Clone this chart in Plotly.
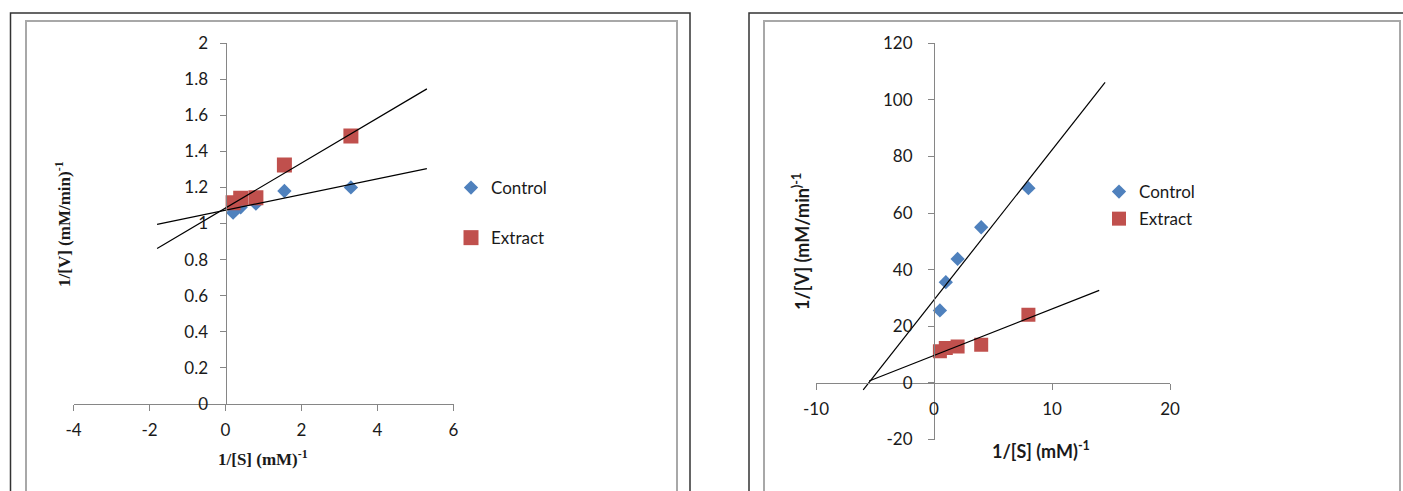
import numpy as np
import plotly.graph_objects as go

W, H = 1403, 491

# ---------------- data ----------------
# Left chart
left_x = [0.2, 0.4, 0.8, 1.55, 3.3]
left_control = [1.06, 1.09, 1.11, 1.18, 1.20]
left_extract = [1.115, 1.14, 1.143, 1.324, 1.485]
left_trend_span = [-1.8, 5.3]          # Excel trendline forecast extents
left_xticks = [-4, -2, 0, 2, 4, 6]
left_xlabels = ["-4", "-2", "0", "2", "4", "6"]
left_yticks = [0, 0.2, 0.4, 0.6, 0.8, 1, 1.2, 1.4, 1.6, 1.8, 2]
left_ylabels = ["0", "0.2", "0.4", "0.6", "0.8", "1", "1.2", "1.4", "1.6", "1.8", "2"]

# Right chart
right_x = [0.5, 1, 2, 4, 8]
right_control = [25.6, 35.6, 43.8, 55.0, 68.8]
right_extract = [11.2, 12.3, 12.9, 13.5, 24.1]
right_control_span = [-6.0, 14.5]
right_extract_span = [-5.5, 14.0]
right_xticks = [-10, 0, 10, 20]
right_xlabels = ["-10", "0", "10", "20"]
right_yticks = [-20, 0, 20, 40, 60, 80, 100, 120]
right_ylabels = ["-20", "0", "20", "40", "60", "80", "100", "120"]

BLUE = "#4F81BD"
RED = "#C0504D"
AXIS = "#868686"
TXT = "#1a1a1a"
SANS = "Lato"
SERIF = "Liberation Serif"


def px(x):
    return x / W


def py(y):
    return (H - y) / H


def trend(xs, ys, span):
    k, b = np.polyfit(xs, ys, 1)
    xx = np.array(span, dtype=float)
    return xx, k * xx + b


fig = go.Figure()

# ----- pixel layout -----
L_xr = [-4, 6]
L_yr = [0, 2]
L_xdom = [px(73.5), px(453.5)]
L_ydom = [py(404), py(43)]

R_xr = [-10, 20]
R_yr = [-20, 120]
R_xdom = [px(816), px(1170)]
R_ydom = [py(439.5), py(43.3)]


def frac(v, r, dom):
    return dom[0] + (v - r[0]) / (r[1] - r[0]) * (dom[1] - dom[0])


# ---------------- left chart traces ----------------
fig.add_trace(go.Scatter(x=left_x, y=left_control, mode="markers", name="Control",
                         marker=dict(symbol="diamond", size=11, color=BLUE),
                         xaxis="x", yaxis="y", legend="legend", legendgroup="a"))
fig.add_trace(go.Scatter(x=left_x, y=left_extract, mode="markers", name="Extract",
                         marker=dict(symbol="square", size=15, color=RED),
                         xaxis="x", yaxis="y", legend="legend", legendgroup="b"))
for ys in (left_control, left_extract):
    tx, ty = trend(left_x, ys, left_trend_span)
    fig.add_trace(go.Scatter(x=tx, y=ty, mode="lines", line=dict(color="black", width=1.2),
                             showlegend=False, hoverinfo="skip", xaxis="x", yaxis="y"))

# ---------------- right chart traces ----------------
fig.add_trace(go.Scatter(x=right_x, y=right_control, mode="markers", name="Control",
                         marker=dict(symbol="diamond", size=11, color=BLUE),
                         xaxis="x2", yaxis="y2", legend="legend2", legendgroup="c"))
fig.add_trace(go.Scatter(x=right_x, y=right_extract, mode="markers", name="Extract",
                         marker=dict(symbol="square", size=14, color=RED),
                         xaxis="x2", yaxis="y2", legend="legend2", legendgroup="d"))
for ys, span in ((right_control, right_control_span), (right_extract, right_extract_span)):
    tx, ty = trend(right_x, ys, span)
    fig.add_trace(go.Scatter(x=tx, y=ty, mode="lines", line=dict(color="black", width=1.2),
                             showlegend=False, hoverinfo="skip", xaxis="x2", yaxis="y2"))

axis_common = dict(showgrid=False, zeroline=False, showline=True, linecolor=AXIS, linewidth=1,
                   ticks="outside", ticklen=6, tickcolor=AXIS, tickwidth=1, automargin=False,
                   tickfont=dict(family=SANS, size=17, color=TXT), fixedrange=True)

fig.update_layout(
    width=W, height=H,
    margin=dict(l=0, r=0, t=0, b=0, pad=0, autoexpand=False),
    paper_bgcolor="white", plot_bgcolor="rgba(0,0,0,0)",
    xaxis=dict(domain=L_xdom, range=L_xr, tickvals=left_xticks, ticktext=left_xlabels,
               anchor="y", ticklabelstandoff=5, **axis_common),
    yaxis=dict(domain=L_ydom, range=L_yr, tickvals=left_yticks, ticktext=left_ylabels,
               anchor="free", position=frac(0, L_xr, L_xdom), ticklabelstandoff=8, **axis_common),
    xaxis2=dict(domain=R_xdom, range=R_xr, tickvals=right_xticks, ticktext=right_xlabels,
                anchor="free", position=frac(0, R_yr, R_ydom), ticklabelstandoff=5, **axis_common),
    yaxis2=dict(domain=R_ydom, range=R_yr, tickvals=right_yticks, ticktext=right_ylabels,
                anchor="free", position=frac(0, R_xr, R_xdom), ticklabelstandoff=12, **axis_common),
    legend=dict(x=px(451), y=py(170), xanchor="left", yanchor="top",
                font=dict(family=SANS, size=17, color=TXT), tracegroupgap=25,
                bgcolor="rgba(0,0,0,0)"),
    legend2=dict(x=px(1099), y=py(174), xanchor="left", yanchor="top",
                 font=dict(family=SANS, size=17, color=TXT), tracegroupgap=2,
                 bgcolor="rgba(0,0,0,0)"),
    showlegend=True,
)

# ---------------- frames ----------------
fig.add_shape(type="rect", xref="paper", yref="paper", x0=px(10.5), x1=px(690), y0=-0.1, y1=py(13),
              line=dict(color="#333333", width=1.5), layer="below")
fig.add_shape(type="rect", xref="paper", yref="paper", x0=px(26), x1=px(677), y0=-0.1, y1=py(21),
              line=dict(color="#a8a8a8", width=2), layer="below")
fig.add_shape(type="rect", xref="paper", yref="paper", x0=px(749), x1=px(1410), y0=-0.1, y1=py(13),
              line=dict(color="#333333", width=1.5), layer="below")
fig.add_shape(type="rect", xref="paper", yref="paper", x0=px(764), x1=px(1400), y0=-0.1, y1=py(21),
              line=dict(color="#a8a8a8", width=2), layer="below")

# ---------------- axis titles ----------------
ann = [
    dict(text="<b>1/[V] (mM/min)<sup>-1</sup></b>", x=px(63), y=py(224), textangle=-90,
         font=dict(family=SERIF, size=17, color=TXT)),
    dict(text="<b>1/[S] (mM)<sup>-1</sup></b>", x=px(263), y=py(458),
         font=dict(family=SERIF, size=17, color=TXT)),
    dict(text="<b>1/[V] (mM/min<sup>)-1</sup></b>", x=px(801), y=py(242), textangle=-90,
         font=dict(family=SANS, size=18, color=TXT)),
    dict(text="<b>1/[S] (mM)<sup>-1</sup></b>", x=px(1041), y=py(450),
         font=dict(family=SANS, size=18, color=TXT)),
]
for a in ann:
    fig.add_annotation(xref="paper", yref="paper", showarrow=False, xanchor="center",
                       yanchor="middle", **a)

fig.write_html("out.html", config={"displayModeBar": False},
               post_script="document.body.style.margin='0px';document.body.style.overflow='hidden';")
